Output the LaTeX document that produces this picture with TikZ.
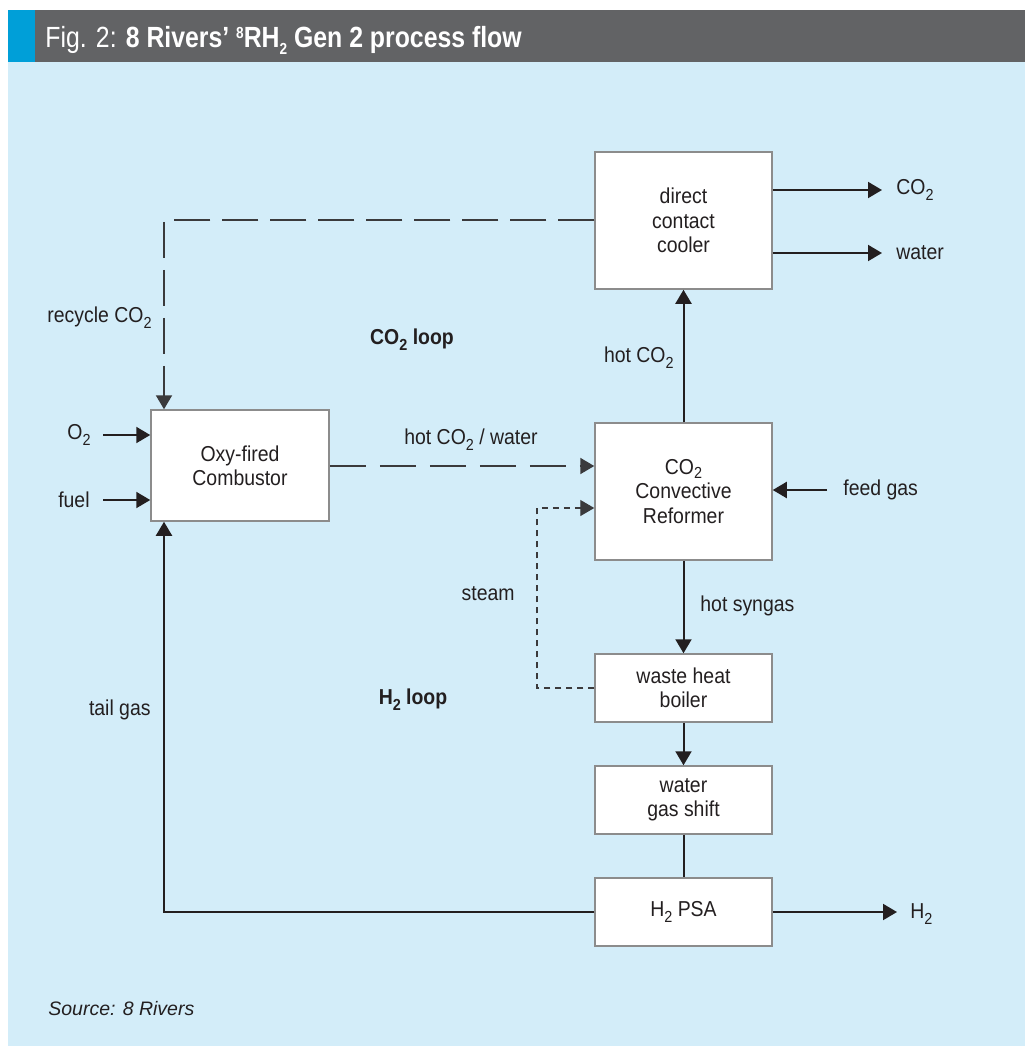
\documentclass[tikz,border=0pt]{standalone}
\usepackage{fontspec}
\setmainfont{Liberation Sans}[FakeStretch=0.9]
\newfontfamily\srcfont{Liberation Sans}
\newfontfamily\titlefont{Liberation Sans}[FakeStretch=0.85]
\usetikzlibrary{arrows.meta}
\newcommand\dn[1]{\raisebox{-0.5ex}{\footnotesize #1}}
\newcommand\up[1]{\raisebox{0.55ex}{\footnotesize #1}}
\definecolor{panel}{HTML}{D3EDF9}
\definecolor{titlegray}{HTML}{626365}
\definecolor{strip}{HTML}{009FD8}
\definecolor{ink}{HTML}{231F20}
\definecolor{boxline}{HTML}{8C8C8C}
\definecolor{dashink}{HTML}{3A3A3C}
\begin{document}
\begin{tikzpicture}[x=0.5pt,y=-0.5pt,
  procbox/.style={draw=boxline,line width=0.75pt,fill=white,minimum width=88.5pt,align=center,
    font=\fontsize{10.8}{12.2}\selectfont,text=ink,inner sep=0pt},
  lbl/.style={font=\fontsize{10.8}{12.2}\selectfont,text=ink,inner sep=0pt},
  boldlbl/.style={font=\fontsize{10.8}{12.2}\selectfont\bfseries,text=ink,inner sep=0pt},
  arr/.style={draw=ink,line width=1pt,-{Triangle[length=7pt,width=8pt]}},
  plain/.style={draw=ink,line width=1pt},
  longdash/.style={draw=dashink,line width=1pt,dash pattern=on 18pt off 6pt},
  shortdash/.style={draw=dashink,line width=0.7pt,dash pattern=on 3pt off 2.5pt},
  dasharr/.style={-{Triangle[length=7pt,width=8pt]}},
]
\useasboundingbox (0,0) rectangle (1025,1046);
\fill[white] (0,0) rectangle (1025,1046);
\fill[panel] (8,62) rectangle (1025,1046);
\fill[strip] (8,10) rectangle (35,62);
\fill[titlegray] (35,10) rectangle (1025,62);
\node[anchor=base west,inner sep=0pt,text=white,font=\titlefont\fontsize{14.6}{16}\selectfont] (title) at (45,47)
  {Fig. 2: \textbf{8 Rivers’ \up{8}RH\dn{2} Gen 2 process flow}};

% boxes
\node[procbox,minimum height=68.5pt] (cool) at (683.5,220.5) {direct\\contact\\cooler};
\node[procbox,minimum width=89pt,minimum height=55.5pt] (comb) at (240,465.5) {Oxy-fired\\Combustor};
\node[procbox,minimum height=68.5pt] (ref) at (683.5,491.5) {CO\raisebox{-0.35ex}{\footnotesize 2}\\Convective\\Reformer};
\node[procbox,minimum height=34pt] (whb) at (683.5,688) {waste heat\\boiler};
\node[procbox,minimum height=34pt] (wgs) at (683.5,800) {water\\gas shift};
\node[procbox,minimum height=34pt] (psa) at (683.5,912) {H\dn{2} PSA};

% free ends
\coordinate (co2end) at (882,190);
\coordinate (waterend) at (882,253);
\coordinate (h2end) at (897,912);
\coordinate (feedstart) at (827,490);
\coordinate (o2start) at (103,435);
\coordinate (fuelstart) at (103,500);
\coordinate (recyclecorner) at (164,220);
\coordinate (tailcorner) at (164,912);
\coordinate (steamx) at (537,600);

% outputs of cooler
\draw[arr] (cool.east |- co2end) -- (co2end);
\draw[arr] (cool.east |- waterend) -- (waterend);
\node[lbl,anchor=west] (co2lab) at (896,190) {CO\dn{2}};
\node[lbl,anchor=west] (waterlab) at (896,253) {water};

% recycle CO2
\draw[longdash,dasharr] (cool.west |- recyclecorner) -- (recyclecorner) -- (comb.north -| recyclecorner);
\node[lbl,anchor=east] (reclab) at (152,318) {recycle CO\dn{2}};
\node[boldlbl] (co2loop) at (412,340) {CO\dn{2} loop};

% hot CO2
\draw[arr] (ref.north) -- (cool.south);
\node[lbl,anchor=east] (hotco2) at (674,358) {hot CO\dn{2}};

% O2 and fuel
\draw[arr] (o2start) -- (comb.west |- o2start);
\draw[arr] (fuelstart) -- (comb.west |- fuelstart);
\node[lbl,anchor=east] (o2lab) at (91,435) {O\dn{2}};
\node[lbl,anchor=east] (fuellab) at (90,500) {fuel};

% hot CO2 / water
\draw[longdash,dasharr,dash pattern=on 18pt off 7pt] (comb.east |- 0,466) -- (ref.west |- 0,466);
\node[lbl] (hotwat) at (471,440) {hot CO\dn{2} / water};

% feed gas
\draw[arr] (feedstart) -- (ref.east |- feedstart);
\node[lbl,anchor=west] (feedlab) at (843,490) {feed gas};

% steam
\draw[shortdash,dasharr] (whb.west) -- (steamx |- whb.west) -- (steamx |- 0,508) -- (ref.west |- 0,508);
\node[lbl,anchor=east] (steamlab) at (515,594) {steam};

% hot syngas
\draw[arr] (ref.south) -- (whb.north);
\node[lbl,anchor=west] (synlab) at (700,606) {hot syngas};
\node[boldlbl] (h2loop) at (413,700) {H\dn{2} loop};

% boiler to WGS, WGS to PSA
\draw[arr] (whb.south) -- (wgs.north);
\draw[plain] (wgs.south) -- (psa.north);

% H2 out
\draw[arr] (psa.east) -- (h2end);
\node[lbl,anchor=west] (h2lab) at (910,914) {H\dn{2}};

% tail gas
\draw[arr] (psa.west) -- (tailcorner) -- (comb.south -| tailcorner);
\node[lbl,anchor=east] (taillab) at (151,710) {tail gas};

% source
\node[anchor=west,inner sep=0pt,text=ink,font=\srcfont\itshape\fontsize{9.75}{11}\selectfont] (src) at (48,1009) {Source: 8 Rivers};
\end{tikzpicture}
\end{document}
